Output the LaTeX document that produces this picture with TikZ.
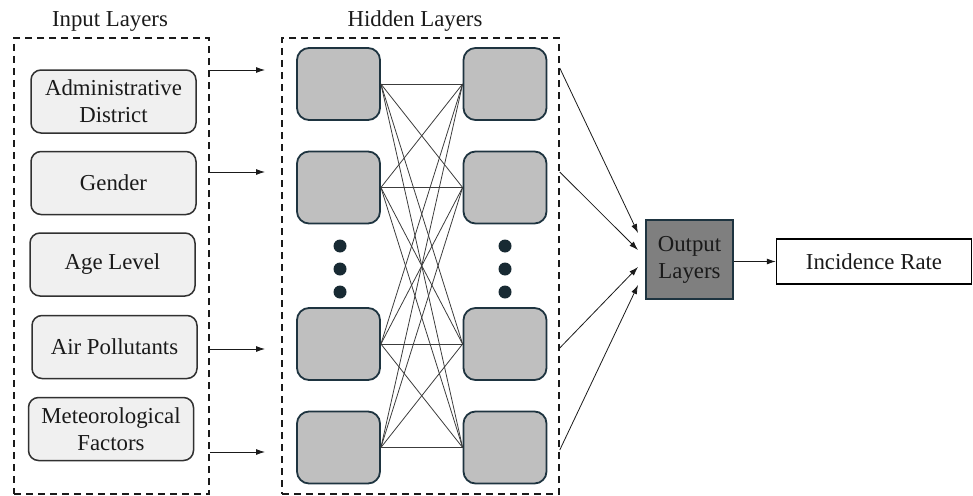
\documentclass[tikz,border=0pt]{standalone}
\usepackage{fontspec}
\setmainfont{Liberation Serif}
\newfontfamily\tnr{Liberation Serif}
\usetikzlibrary{arrows.meta}
\definecolor{txt}{HTML}{1A1A1A}
\definecolor{inbg}{HTML}{F0F0F0}
\definecolor{hidbg}{HTML}{BFBFBF}
\definecolor{hidline}{HTML}{1E3440}
\definecolor{outbg}{HTML}{7F7F7F}
\tikzset{
  lbl/.style={text=txt, font=\tnr\fontsize{22.8}{27}\selectfont},
  dashbox/.style={draw=txt, line width=1.5pt, dash pattern=on 7pt off 5pt, minimum width=#1, minimum height=456pt, inner sep=0pt},
  inbox/.style={lbl, draw=txt!90, fill=inbg, line width=1.5pt, rounded corners=10pt, minimum width=165pt, minimum height=63pt, align=center, inner sep=0pt},
  hidbox/.style={draw=hidline, fill=hidbg, line width=1.8pt, rounded corners=12pt, minimum width=83pt, minimum height=72pt, inner sep=0pt},
  dot/.style={circle, fill=hidline!80!black, minimum size=13pt, inner sep=0pt},
  link/.style={draw=txt!85, line width=0.8pt},
  arr/.style={draw=txt, line width=0.8pt, -{Latex[length=9pt,width=6pt]}},
  outbox/.style={lbl, draw=hidline, fill=outbg, line width=1.5pt, minimum width=87pt, minimum height=79pt, align=center, inner sep=0pt},
  ratebox/.style={lbl, draw=black, fill=white, line width=1.5pt, minimum width=195pt, minimum height=45pt, inner sep=0pt}
}
\begin{document}
\begin{tikzpicture}[x=1pt,y=-1pt]
\useasboundingbox (0,0) rectangle (973,495);
% titles
\node[lbl] (tin) at (110,21) {Input Layers};
\node[lbl] (thid) at (415,21) {Hidden Layers};
% dashed containers
\node[dashbox=195pt] (inframe) at (111.5,266) {};
\node[dashbox=277pt] (hidframe) at (420.5,266) {};
% input boxes
\node[inbox] (i1) at (113.5,101.5) {Administrative\\District};
\node[inbox] (i2) at (113.5,183) {Gender};
\node[inbox] (i3) at (112.5,264.5) {Age Level};
\node[inbox] (i4) at (114.5,347) {Air Pollutants};
\node[inbox] (i5) at (111,429) {Meteorological\\Factors};
% hidden nodes
\node[hidbox] (a1) at (338.5,84) {};
\node[hidbox] (a2) at (338.5,187.5) {};
\node[hidbox] (a3) at (338.5,344) {};
\node[hidbox] (a4) at (338.5,447.5) {};
\node[hidbox] (b1) at (505,84) {};
\node[hidbox] (b2) at (505,187.5) {};
\node[hidbox] (b3) at (505,344) {};
\node[hidbox] (b4) at (505,447.5) {};
% dots
\node[dot] (da1) at (340,246) {};
\node[dot] (da2) at (340,269) {};
\node[dot] (da3) at (340,292) {};
\node[dot] (db1) at (505,246) {};
\node[dot] (db2) at (505,269) {};
\node[dot] (db3) at (505,292) {};
% full connections
\foreach \i in {1,...,4}{
  \foreach \j in {1,...,4}{
    \draw[link] (a\i.east) -- (b\j.west);
  }
}
% output
\node[outbox] (out) at (689.5,259.5) {Output\\Layers};
\node[ratebox] (rate) at (874,261.5) {Incidence Rate};
% input arrows
\coordinate (t1) at (265,70);
\coordinate (t2) at (265,172);
\coordinate (t3) at (265,349);
\coordinate (t4) at (265,452);
\foreach \k in {1,...,4}{
  \draw[arr] (inframe.east |- t\k) -- (t\k);
}
% hidden to output arrows
\coordinate (s1) at (559,68);
\coordinate (s2) at (559,172);
\coordinate (s3) at (559,348);
\coordinate (s4) at (559,450);
\coordinate (e1) at (638,233);
\coordinate (e2) at (638,250);
\coordinate (e3) at (638,267);
\coordinate (e4) at (638,285);
\foreach \k in {1,...,4}{
  \draw[arr] (hidframe.east |- s\k) -- (e\k);
}
\draw[arr] (out.east |- rate.west) -- (rate.west);
\end{tikzpicture}
\end{document}
